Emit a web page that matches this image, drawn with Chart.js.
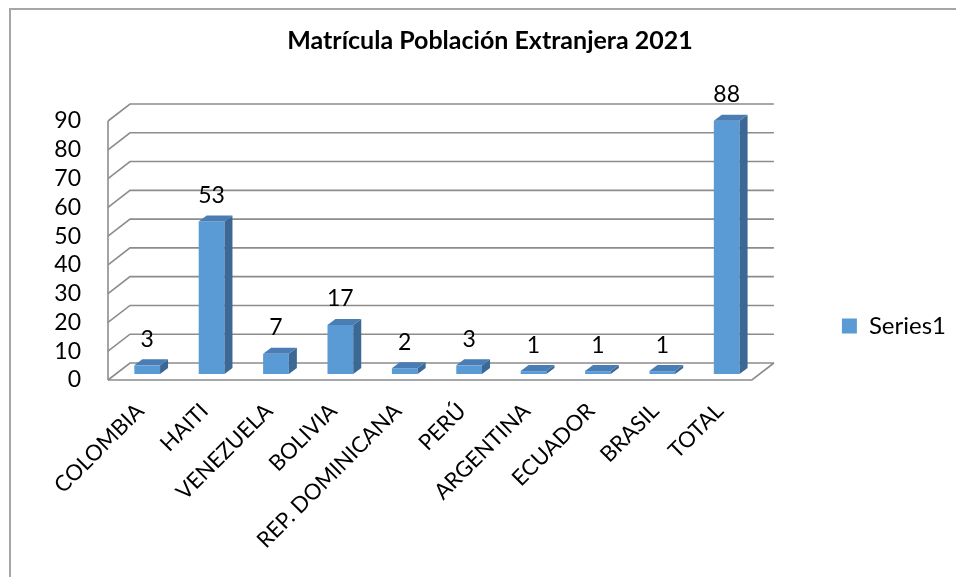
<!DOCTYPE html>
<html>
<head>
<meta charset="utf-8">
<script src="https://cdn.jsdelivr.net/npm/chart.js@4.4.1/dist/chart.umd.min.js"></script>
<style>
  html,body{margin:0;padding:0;background:#fff;}
  #wrap{position:relative;width:956px;height:577px;overflow:hidden;}
  #frame{position:absolute;left:9px;top:8px;width:960px;height:600px;border-left:2px solid #a6a6a6;border-top:2px solid #a6a6a6;pointer-events:none;}
  canvas{position:absolute;left:0;top:0;}
</style>
</head>
<body>
<div id="wrap">
<canvas id="c" width="956" height="577"></canvas>
<div id="frame"></div>
</div>
<script>
const categories = ['COLOMBIA','HAITI','VENEZUELA','BOLIVIA','REP. DOMINICANA','PERÚ','ARGENTINA','ECUADOR','BRASIL','TOTAL'];
const series1 = [3, 53, 7, 17, 2, 3, 1, 1, 1, 88];
const seriesName = 'Series1';
const chartTitle = 'Matrícula Población Extranjera 2021';
const yMin = 0, yMax = 90, yStep = 10;

const FONT = 'Lato';
const WALL = {dx: 22, dy: 17};
const BAR_OFF = {dx: 7, dy: 6};
const BAR_DEPTH = {dx: 8, dy: 6};

const threeD = {
  id: 'threeD',
  beforeDatasetsDraw(chart) {
    const {ctx, chartArea: a, scales: {y}} = chart;
    ctx.save();
    ctx.strokeStyle = '#8c8c8c';
    ctx.lineWidth = 1.6;
    ctx.lineCap = 'butt';
    ctx.beginPath();
    ctx.moveTo(a.left, y.getPixelForValue(yMin));
    ctx.lineTo(a.left, y.getPixelForValue(yMax));
    ctx.stroke();
    y.ticks.forEach(t => {
      const py = y.getPixelForValue(t.value);
      ctx.beginPath();
      ctx.moveTo(a.left, py);
      ctx.lineTo(a.left + WALL.dx, py - WALL.dy);
      ctx.lineTo(a.right + WALL.dx, py - WALL.dy);
      ctx.stroke();
    });
    const p0 = y.getPixelForValue(yMin);
    ctx.beginPath();
    ctx.moveTo(a.left, p0);
    ctx.lineTo(a.right, p0);
    ctx.lineTo(a.right + WALL.dx, p0 - WALL.dy);
    ctx.stroke();
    ctx.restore();
    ctx.save();
    ctx.translate(BAR_OFF.dx, -BAR_OFF.dy);
  },
  afterDatasetsDraw(chart) {
    const {ctx} = chart;
    const meta = chart.getDatasetMeta(0);
    meta.data.forEach((el, i) => {
      const {x, y, base, width} = el.getProps(['x', 'y', 'base', 'width'], true);
      const l = x - width / 2, r = x + width / 2;
      ctx.fillStyle = '#3c6896';
      ctx.beginPath();
      ctx.moveTo(r, y);
      ctx.lineTo(r + BAR_DEPTH.dx, y - BAR_DEPTH.dy);
      ctx.lineTo(r + BAR_DEPTH.dx, base - BAR_DEPTH.dy);
      ctx.lineTo(r, base);
      ctx.closePath();
      ctx.fill();
      ctx.fillStyle = '#4a7db3';
      ctx.beginPath();
      ctx.moveTo(l, y);
      ctx.lineTo(l + BAR_DEPTH.dx, y - BAR_DEPTH.dy);
      ctx.lineTo(r + BAR_DEPTH.dx, y - BAR_DEPTH.dy);
      ctx.lineTo(r, y);
      ctx.closePath();
      ctx.fill();
      ctx.fillStyle = '#000';
      ctx.font = '23px ' + FONT;
      ctx.textAlign = 'center';
      ctx.textBaseline = 'middle';
      ctx.fillText(String(series1[i]), x, y - 26);
    });
    ctx.restore();
  }
};

new Chart(document.getElementById('c'), {
  type: 'bar',
  data: {
    labels: categories,
    datasets: [{
      label: seriesName,
      data: series1,
      backgroundColor: '#5b9bd5',
      borderWidth: 0,
      categoryPercentage: 1,
      barPercentage: 0.4,
      clip: false
    }]
  },
  options: {
    responsive: false,
    animation: false,
    events: [],
    layout: {padding: {left: 24, right: 0, top: 0, bottom: 0}},
    scales: {
      x: {
        grid: {display: false, drawTicks: false},
        border: {display: false},
        ticks: {
          minRotation: 45, maxRotation: 45, autoSkip: false,
          padding: 18, color: '#000',
          font: {family: FONT, size: 22}
        },
        afterFit(s) { s.height = 197; }
      },
      y: {
        min: yMin, max: yMax,
        grid: {display: false, drawTicks: false},
        border: {display: false},
        ticks: {stepSize: yStep, autoSkip: false, padding: 27, color: '#000', font: {family: FONT, size: 23}},
        afterFit(s) { s.width = 84; }
      }
    },
    plugins: {
      tooltip: {enabled: false},
      title: {
        display: true,
        text: chartTitle,
        color: '#000',
        font: {family: FONT, size: 25, weight: 'bold', lineHeight: 1.2},
        padding: {top: 25.5, bottom: 65.5}
      },
      legend: {
        display: true,
        position: 'right',
        align: 'center',
        title: {display: true, text: '', font: {size: 15, lineHeight: 1}, padding: {top: 30, bottom: 30}},
        labels: {
          boxWidth: 15, boxHeight: 15, padding: 90,
          color: '#000',
          font: {family: FONT, size: 24}
        }
      }
    }
  },
  plugins: [threeD]
});
</script>
</body>
</html>
